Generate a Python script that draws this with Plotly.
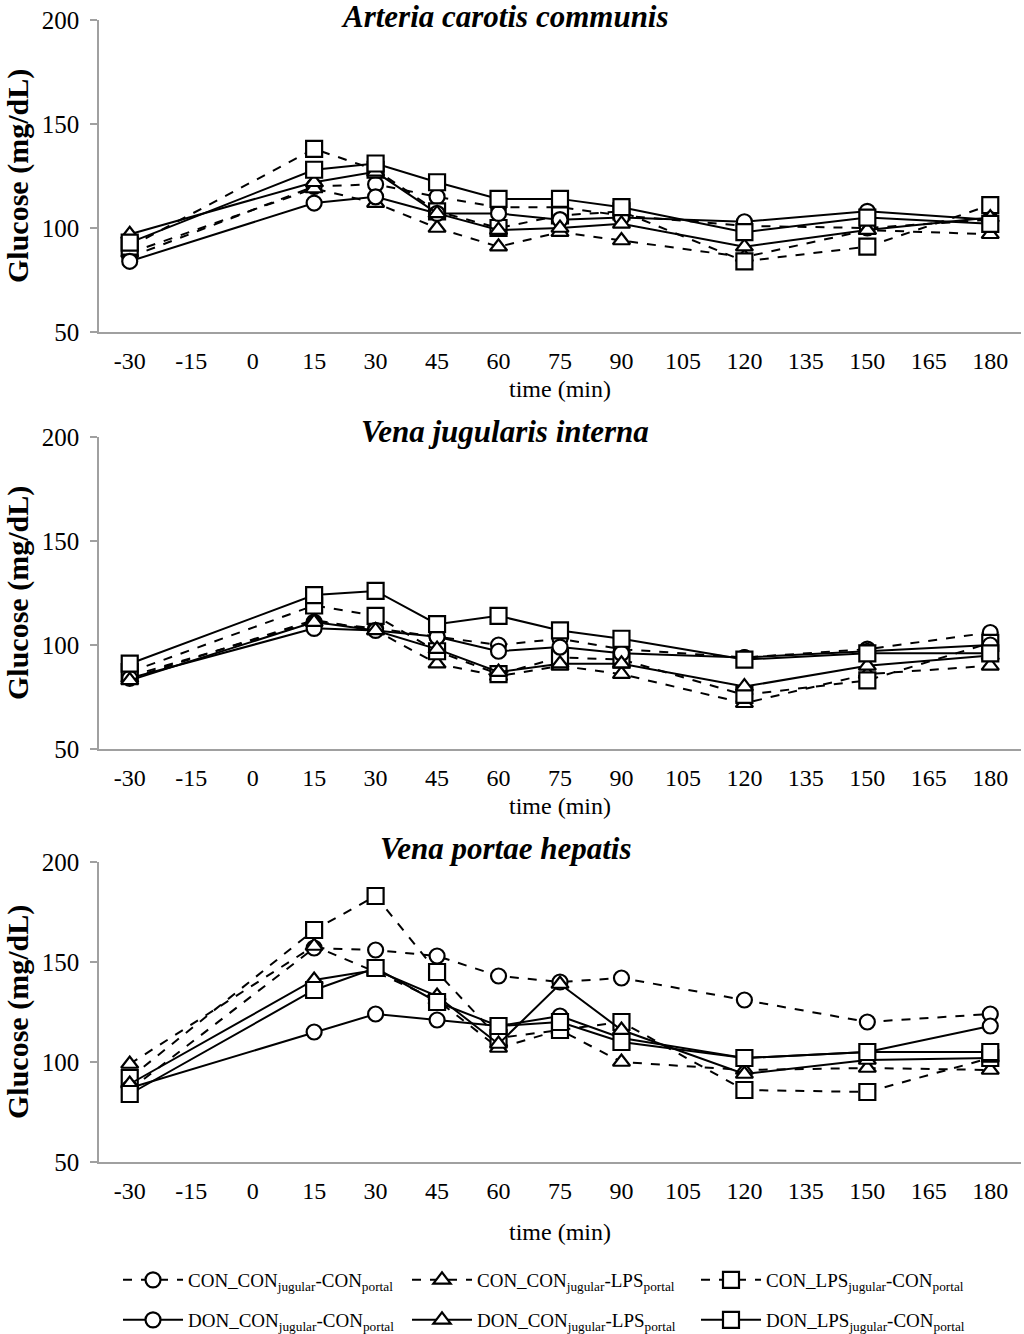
import plotly.graph_objects as go

# ---------------- data ----------------
time_min = [-30, 15, 30, 45, 60, 75, 90, 120, 150, 180]
x_ticks = [-30, -15, 0, 15, 30, 45, 60, 75, 90, 105, 120, 135, 150, 165, 180]

series_names = [
    "CON_CON<sub>jugular</sub>-CON<sub>portal</sub>",
    "CON_CON<sub>jugular</sub>-LPS<sub>portal</sub>",
    "CON_LPS<sub>jugular</sub>-CON<sub>portal</sub>",
    "DON_CON<sub>jugular</sub>-CON<sub>portal</sub>",
    "DON_CON<sub>jugular</sub>-LPS<sub>portal</sub>",
    "DON_LPS<sub>jugular</sub>-CON<sub>portal</sub>",
]
panel_titles = ["Arteria carotis communis", "Vena jugularis interna", "Vena portae hepatis"]

# Arteria carotis communis
carotis_con_con_con = [86, 120, 121, 115, 110, 110, 106, 101, 100, 104]
carotis_con_con_lps = [88, 119, 112, 100, 91, 98, 94, 86, 99, 97]
carotis_con_lps_con = [91, 138, 128, 108, 100, 106, 108, 84, 91, 111]
carotis_don_con_con = [84, 112, 115, 107, 107, 104, 105, 103, 108, 104]
carotis_don_con_lps = [97, 122, 127, 107, 99, 100, 102, 91, 99, 105]
carotis_don_lps_con = [93, 128, 131, 122, 114, 114, 110, 98, 105, 102]

# Vena jugularis interna
jugular_con_con_con = [85, 111, 108, 104, 100, 103, 98, 94, 98, 106]
jugular_con_con_lps = [84, 112, 107, 91, 85, 90, 86, 72, 86, 90]
jugular_con_lps_con = [87, 119, 114, 97, 86, 94, 93, 76, 83, 101]
jugular_don_con_con = [84, 108, 107, 104, 97, 99, 96, 94, 97, 100]
jugular_don_con_lps = [83, 111, 107, 98, 87, 91, 91, 80, 90, 95]
jugular_don_lps_con = [91, 124, 126, 110, 114, 107, 103, 93, 96, 96]

# Vena portae hepatis
portal_con_con_con = [86, 157, 156, 153, 143, 140, 142, 131, 120, 124]
portal_con_con_lps = [99, 158, 145, 131, 107, 116, 100, 96, 97, 96]
portal_con_lps_con = [92, 166, 183, 145, 112, 116, 120, 86, 85, 102]
portal_don_con_con = [87, 115, 124, 121, 118, 123, 112, 102, 105, 118]
portal_don_con_lps = [89, 141, 146, 133, 109, 139, 116, 94, 101, 102]
portal_don_lps_con = [84, 136, 147, 130, 118, 120, 110, 102, 105, 105]

panels = [
    [carotis_con_con_con, carotis_con_con_lps, carotis_con_lps_con,
     carotis_don_con_con, carotis_don_con_lps, carotis_don_lps_con],
    [jugular_con_con_con, jugular_con_con_lps, jugular_con_lps_con,
     jugular_don_con_con, jugular_don_con_lps, jugular_don_lps_con],
    [portal_con_con_con, portal_con_con_lps, portal_con_lps_con,
     portal_don_con_con, portal_don_con_lps, portal_don_lps_con],
]

# ---------------- styling / layout ----------------
W, H = 1024, 1334
ML, MR, MT, MB = 99, 3, 20, 172
PW = W - ML - MR
PH = H - MT - MB

def py2paper(py):
    """reference-image pixel row -> paper fraction"""
    return 1 - (py - MT) / PH

def px2paper(px):
    """reference-image pixel column -> paper fraction"""
    return (px - ML) / PW

symbols = ["circle", "triangle-up", "square"] * 2
dashes = ["dash"] * 3 + ["solid"] * 3
legend_ids = ["legend"] * 3 + ["legend2"] * 3

panel_px = [(20, 332), (437, 749), (862, 1162)]
xtitle_py = [389, 806, 1232]
title_py = [16, 432, 848]

FONT = "Liberation Serif, Times New Roman, serif"

fig = go.Figure()
for p, data in enumerate(panels):
    xa = "x" if p == 0 else f"x{p+1}"
    ya = "y" if p == 0 else f"y{p+1}"
    for i, vals in enumerate(data):
        fig.add_trace(go.Scatter(
            x=time_min, y=vals, xaxis=xa, yaxis=ya,
            mode="lines+markers", name=series_names[i],
            showlegend=(p == 0), legend=legend_ids[i],
            line=dict(color="black", width=2, dash=dashes[i]),
            marker=dict(symbol=symbols[i], size=15 if i % 3 != 2 else 16,
                        color="white", line=dict(width=2.2, color="black")),
        ))

legend_common = dict(orientation="h", xanchor="left", yanchor="middle",
                     entrywidth=214, itemwidth=60, traceorder="normal",
                     bgcolor="rgba(0,0,0,0)",
                     font=dict(family=FONT, size=19, color="black"))
layout = dict(
    width=W, height=H,
    margin=dict(l=ML, r=MR, t=MT, b=MB, autoexpand=False),
    paper_bgcolor="white", plot_bgcolor="white",
    font=dict(family=FONT, size=24, color="black"),
    legend=dict(x=px2paper(118), y=py2paper(1280), **legend_common),
    legend2=dict(x=px2paper(118), y=py2paper(1320), **legend_common),
)
annotations = []
for p in range(3):
    top, bot = panel_px[p]
    xk = "xaxis" if p == 0 else f"xaxis{p+1}"
    yk = "yaxis" if p == 0 else f"yaxis{p+1}"
    anchor_x = "y" if p == 0 else f"y{p+1}"
    anchor_y = "x" if p == 0 else f"x{p+1}"
    layout[xk] = dict(
        range=[-37.5, 187.5], tickvals=x_ticks, ticktext=[str(v) for v in x_ticks],
        showline=True, linecolor="#a0a0a0", linewidth=1.5, ticks="",
        showgrid=False, zeroline=False, anchor=anchor_x, automargin=False,
        domain=[0, 1], tickfont=dict(size=24), ticklabelstandoff=6,
        ticklabeloverflow="allow",
    )
    layout[yk] = dict(
        range=[50, 200], tickvals=[50, 100, 150, 200],
        showline=True, linecolor="#a0a0a0", linewidth=1.5,
        ticks="outside", ticklen=7, tickcolor="#a0a0a0", tickwidth=1.5,
        showgrid=False, zeroline=False, anchor=anchor_y, automargin=False,
        domain=[py2paper(bot), py2paper(top)], tickfont=dict(size=25),
        ticklabelstandoff=6, ticklabeloverflow="allow",
    )
    annotations.append(dict(
        text=f"<b><i>{panel_titles[p]}</i></b>", xref="paper", yref="paper",
        x=px2paper(505), y=py2paper(title_py[p]), showarrow=False,
        font=dict(size=31, family=FONT), xanchor="center", yanchor="middle",
    ))
    annotations.append(dict(
        text="time (min)", xref="paper", yref="paper",
        x=px2paper(560), y=py2paper(xtitle_py[p]), showarrow=False,
        font=dict(size=24, family=FONT), xanchor="center", yanchor="middle",
    ))
    annotations.append(dict(
        text="<b>Glucose (mg/dL)</b>", xref="paper", yref="paper",
        x=px2paper(18), y=py2paper((top + bot) / 2), showarrow=False,
        textangle=-90, font=dict(size=30, family=FONT),
        xanchor="center", yanchor="middle",
    ))
layout["annotations"] = annotations
fig.update_layout(**layout)

# remove the default page margin so the figure sits at the window's top-left
fig.write_html(
    "out.html",
    config={"displayModeBar": False},
    post_script="document.documentElement.style.margin='0';"
                "document.body.style.margin='0';document.body.style.padding='0';",
)
